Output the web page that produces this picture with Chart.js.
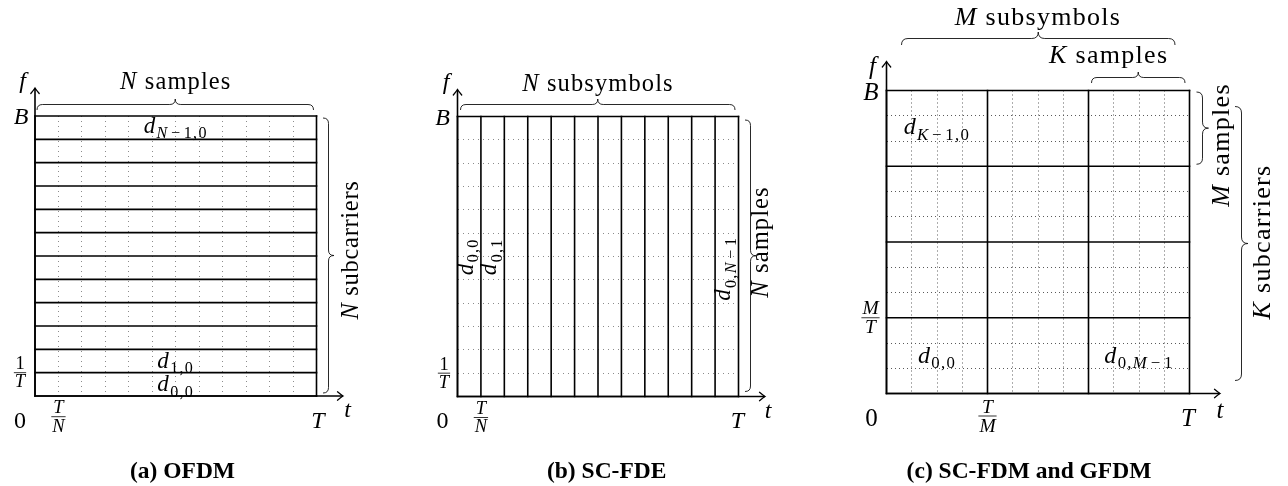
<!DOCTYPE html>
<html>
<head>
<meta charset="utf-8">
<script src="https://cdn.jsdelivr.net/npm/chart.js@4.4.1/dist/chart.umd.min.js"></script>
<style>
  html, body { margin: 0; padding: 0; background: #fff; }
  #wrap { position: relative; width: 1288px; height: 486px; overflow: hidden; }
  #wrap canvas { position: absolute; left: 0; top: 0; }
</style>
</head>
<body>
<div id="wrap">
  <canvas id="ofdm" width="1288" height="486"></canvas>
  <canvas id="scfde" width="1288" height="486"></canvas>
  <canvas id="gfdm" width="1288" height="486"></canvas>
</div>
<script>
// Every panel is a 12 x 12 grid of (time slot, frequency slot) cells.
const slotSpan = [0, 12];

// (a) OFDM: one subcarrier per row, N samples along time
const ofdmSubcarrierEdges = [0, 1, 2, 3, 4, 5, 6, 7, 8, 9, 10, 11, 12];
const ofdmBlockEdges = [0, 12];
const ofdmSampleDots = [1, 2, 3, 4, 5, 6, 7, 8, 9, 10, 11];
const ofdmFreqTicks = [{ v: 1, num: '1', den: '$T$' }, { v: 12, text: '$B$' }];
const ofdmTimeTicks = [{ v: 0, text: '0' }, { v: 1, num: '$T$', den: '$N$' }, { v: 12, text: '$T$' }];
const ofdmSymbols = [{ x: 6, y: 11.5, text: '$d_{N−1,0}$' }, { x: 6, y: 1.5, text: '$d_{1,0}$' }, { x: 6, y: 0.5, text: '$d_{0,0}$' }];

// (b) SC-FDE: one subsymbol per column, N samples along frequency
const scfdeSubsymbolEdges = [0, 1, 2, 3, 4, 5, 6, 7, 8, 9, 10, 11, 12];
const scfdeBandEdges = [0, 12];
const scfdeSampleDots = [1, 2, 3, 4, 5, 6, 7, 8, 9, 10, 11];
const scfdeFreqTicks = [{ v: 1, num: '1', den: '$T$' }, { v: 12, text: '$B$' }];
const scfdeTimeTicks = [{ v: 0, text: '0' }, { v: 1, num: '$T$', den: '$N$' }, { v: 12, text: '$T$' }];
const scfdeSymbols = [{ x: 0.5, y: 5.2, text: '$d_{0,0}$' }, { x: 1.5, y: 5.2, text: '$d_{0,1}$' }, { x: 11.5, y: 4.1, text: '$d_{0,N−1}$' }];

// (c) SC-FDM and GFDM: M = 3 subsymbols of K = 4 samples, K = 4 subcarriers of M = 3 samples
const gfdmSubsymbolEdges = [0, 4, 8, 12];
const gfdmSubcarrierEdges = [0, 3, 6, 9, 12];
const gfdmTimeDots = [1, 2, 3, 5, 6, 7, 9, 10, 11];
const gfdmFreqDots = [1, 2, 4, 5, 7, 8, 10, 11];
const gfdmFreqTicks = [{ v: 3, num: '$M$', den: '$T$' }, { v: 12, text: '$B$' }];
const gfdmTimeTicks = [{ v: 0, text: '0' }, { v: 4, num: '$T$', den: '$M$' }, { v: 12, text: '$T$' }];
const gfdmSymbols = [{ x: 2, y: 10.5, text: '$d_{K−1,0}$' }, { x: 2, y: 1.5, text: '$d_{0,0}$' }, { x: 10, y: 1.5, text: '$d_{0,M−1}$' }];

const SERIF = '"Liberation Serif", "Times New Roman", serif';
const INK = '#000';

function setFont(ctx, size, italic, bold) {
  ctx.font = (italic ? 'italic ' : '') + (bold ? 'bold ' : '') + size + 'px ' + SERIF;
}

// Split "$N$ samples" or "$d_{0,N−1}$" into styled glyph runs.
function parseTeX(src) {
  const runs = [];
  let math = false;
  let i = 0;
  while (i < src.length) {
    const c = src[i];
    if (c === '$') { math = !math; i++; continue; }
    if (math && c === '_' && src[i + 1] === '{') {
      const end = src.indexOf('}', i);
      for (const ch of src.slice(i + 2, end)) runs.push({ t: ch, it: /[A-Za-z]/.test(ch), sub: true });
      i = end + 1;
      continue;
    }
    runs.push({ t: c, it: math && /[A-Za-z]/.test(c), sub: false });
    i++;
  }
  return runs;
}

function measureTeX(ctx, src, size, track) {
  const runs = parseTeX(src);
  const widths = runs.map(r => {
    const s = r.sub ? size * 0.7 : size;
    setFont(ctx, s, r.it);
    let w = ctx.measureText(r.t).width + (track || 0);
    if (r.t === '−') w += s * 0.3;
    return w;
  });
  return { runs, widths, total: widths.reduce((a, b) => a + b, 0) };
}

function drawTeX(ctx, src, x, y, size, o) {
  o = o || {};
  const align = o.align || 'center';
  ctx.save();
  ctx.translate(x, y);
  if (o.rot) ctx.rotate(o.rot);
  ctx.fillStyle = INK;
  ctx.textBaseline = 'alphabetic';
  ctx.textAlign = 'left';
  const m = measureTeX(ctx, src, size, o.track);
  let cx = align === 'center' ? -m.total / 2 : align === 'right' ? -m.total : 0;
  m.runs.forEach((r, k) => {
    const s = r.sub ? size * 0.7 : size;
    setFont(ctx, s, r.it);
    const pad = r.t === '−' ? s * 0.15 : 0;
    ctx.fillText(r.t, cx + pad, r.sub ? size * 0.24 : 0);
    cx += m.widths[k];
  });
  ctx.restore();
  return m.total;
}

function drawFrac(ctx, num, den, x, barY, size) {
  const wn = measureTeX(ctx, num, size).total;
  const wd = measureTeX(ctx, den, size).total;
  const w = Math.max(wn, wd) + 2;
  drawTeX(ctx, num, x, barY - 3.5, size);
  drawTeX(ctx, den, x, barY + size * 0.8, size);
  ctx.save();
  ctx.strokeStyle = INK;
  ctx.lineWidth = 0.8;
  ctx.beginPath();
  ctx.moveTo(x - w / 2, barY);
  ctx.lineTo(x + w / 2, barY);
  ctx.stroke();
  ctx.restore();
}

// Curly brace from (x1,y1) to (x2,y2); the tip bulges to the left of that direction.
function drawBrace(ctx, x1, y1, x2, y2, amp) {
  const L = Math.hypot(x2 - x1, y2 - y1);
  const h = amp / 2;
  ctx.save();
  ctx.translate(x1, y1);
  ctx.rotate(Math.atan2(y2 - y1, x2 - x1));
  ctx.beginPath();
  ctx.moveTo(0, 0);
  ctx.quadraticCurveTo(0, -h, h, -h);
  ctx.lineTo(L / 2 - h, -h);
  ctx.quadraticCurveTo(L / 2, -h, L / 2, -amp);
  ctx.quadraticCurveTo(L / 2, -h, L / 2 + h, -h);
  ctx.lineTo(L - h, -h);
  ctx.quadraticCurveTo(L, -h, L, 0);
  ctx.strokeStyle = '#111';
  ctx.lineWidth = 0.9;
  ctx.stroke();
  ctx.restore();
}

function arrowHead(ctx, x, y, ang) {
  ctx.save();
  ctx.translate(x, y);
  ctx.rotate(ang);
  ctx.beginPath();
  ctx.moveTo(-5.5, -4.2);
  ctx.quadraticCurveTo(-1.6, -0.9, 0, 0);
  ctx.quadraticCurveTo(-1.6, 0.9, -5.5, 4.2);
  ctx.lineWidth = 1.3;
  ctx.stroke();
  ctx.restore();
}

// Time and frequency axes drawn from the origin of the scales.
function drawAxes(ctx, xs, ys, xTip, yTip) {
  const ox = xs.getPixelForValue(0);
  const oy = ys.getPixelForValue(0);
  ctx.save();
  ctx.strokeStyle = INK;
  ctx.lineWidth = 1.6;
  ctx.lineCap = 'square';
  ctx.beginPath();
  ctx.moveTo(ox, oy);
  ctx.lineTo(xTip - 1, oy);
  ctx.moveTo(ox, oy);
  ctx.lineTo(ox, yTip + 1);
  ctx.stroke();
  ctx.lineCap = 'round';
  arrowHead(ctx, xTip, oy, 0);
  arrowHead(ctx, ox, yTip, -Math.PI / 2);
  ctx.restore();
}

function drawTicks(ctx, xs, ys, freqTicks, timeTicks, lay) {
  freqTicks.forEach(t => {
    const py = ys.getPixelForValue(t.v);
    if (t.text) drawTeX(ctx, t.text, xs.left + lay.yLabelDx, py + lay.bDy, lay.tick);
    else drawFrac(ctx, t.num, t.den, xs.left + lay.fracDx, py, lay.frac);
  });
  timeTicks.forEach(t => {
    const px = xs.getPixelForValue(t.v);
    if (t.v === 0) drawTeX(ctx, t.text, xs.left + lay.zeroDx, ys.bottom + lay.rowDy, lay.tick);
    else if (t.text) drawTeX(ctx, t.text, px + lay.tDx, ys.bottom + lay.rowDy, lay.tick);
    else drawFrac(ctx, t.num, t.den, px, ys.bottom + lay.xFracDy, lay.frac);
  });
  drawTeX(ctx, '$f$', xs.left + lay.fDx, lay.fY, lay.tick);
  drawTeX(ctx, '$t$', xs.right + lay.tAxisDx, ys.bottom + lay.tAxisDy, lay.tick);
}

function drawCaption(ctx, text, x) {
  ctx.save();
  setFont(ctx, 23.5, false, true);
  ctx.fillStyle = INK;
  ctx.textAlign = 'center';
  ctx.textBaseline = 'alphabetic';
  ctx.fillText(text, x, 478);
  ctx.restore();
}

function slotAxis(dots, dash, color) {
  const list = dots.length ? dots : slotSpan;
  return {
    type: 'linear',
    min: slotSpan[0],
    max: slotSpan[1],
    afterBuildTicks: s => { s.ticks = list.map(v => ({ value: v })); },
    ticks: { display: false },
    grid: { display: dots.length > 0, drawTicks: false, color: color, lineWidth: 1 },
    border: { display: false, dash: dash }
  };
}

function edgeLines(vertical, edges) {
  return edges.map(e => ({
    data: vertical
      ? [{ x: e, y: slotSpan[0] }, { x: e, y: slotSpan[1] }]
      : [{ x: slotSpan[0], y: e }, { x: slotSpan[1], y: e }],
    showLine: true,
    borderColor: INK,
    borderWidth: 1.6,
    borderCapStyle: 'square',
    pointRadius: 0,
    fill: false,
    clip: false
  }));
}

function makePanel(id, area, xEdges, yEdges, xDots, yDots, dotStyle, art) {
  return new Chart(document.getElementById(id), {
    type: 'scatter',
    data: { datasets: [...edgeLines(true, xEdges), ...edgeLines(false, yEdges)] },
    options: {
      responsive: false,
      animation: false,
      events: [],
      layout: { padding: { left: area.left, top: area.top, right: 1288 - area.right, bottom: 486 - area.bottom } },
      scales: {
        x: slotAxis(xDots, dotStyle.dash, dotStyle.color),
        y: slotAxis(yDots, dotStyle.dash, dotStyle.color)
      },
      plugins: { legend: { display: false }, tooltip: { enabled: false } }
    },
    plugins: [{ id: 'panelArt', afterDraw: c => art(c.ctx, c.scales.x, c.scales.y) }]
  });
}

const RISE = -Math.PI / 2;

makePanel('ofdm', { left: 35, right: 316.5, top: 116, bottom: 396 },
  ofdmBlockEdges, ofdmSubcarrierEdges, ofdmSampleDots, [], { dash: [1, 4], color: '#8c8c8c' },
  (ctx, xs, ys) => {
    drawAxes(ctx, xs, ys, xs.right + 26.5, ys.top - 28);
    drawTicks(ctx, xs, ys, ofdmFreqTicks, ofdmTimeTicks, {
      tick: 24, frac: 18.5, yLabelDx: -14, bDy: 7.5, fracDx: -15, zeroDx: -15, rowDy: 31.5,
      tDx: 1.5, xFracDy: 20.7, fDx: -12.5, fY: 88, tAxisDx: 31, tAxisDy: 21
    });
    drawBrace(ctx, xs.left + 2, ys.top - 6, xs.right - 3, ys.top - 6, 11);
    drawTeX(ctx, '$N$ samples', xs.getPixelForValue(6), 89, 24.5, { track: 1.1 });
    drawBrace(ctx, xs.right + 6.5, ys.top + 2, xs.right + 6.5, ys.bottom - 3, 11);
    drawTeX(ctx, '$N$ subcarriers', xs.right + 41, 250, 24.5, { track: 0.7, rot: RISE });
    ofdmSymbols.forEach((s, i) => drawTeX(ctx, s.text, xs.getPixelForValue(s.x), ys.getPixelForValue(s.y) + [5, 6.5, 7][i], 23, { track: 1.3 }));
    drawCaption(ctx, '(a) OFDM', 182.5);
  });

makePanel('scfde', { left: 457.5, right: 738.5, top: 116.5, bottom: 396.5 },
  scfdeSubsymbolEdges, scfdeBandEdges, [], scfdeSampleDots, { dash: [1, 4], color: '#8c8c8c' },
  (ctx, xs, ys) => {
    drawAxes(ctx, xs, ys, xs.right + 26.5, ys.top - 27);
    drawTicks(ctx, xs, ys, scfdeFreqTicks, scfdeTimeTicks, {
      tick: 24, frac: 18.5, yLabelDx: -15, bDy: 8, fracDx: -13.5, zeroDx: -15, rowDy: 31.5,
      tDx: -1, xFracDy: 21, fDx: -11.5, fY: 89, tAxisDx: 29.5, tAxisDy: 21.5
    });
    drawBrace(ctx, xs.left + 3, ys.top - 6.5, xs.right - 3.5, ys.top - 6.5, 11);
    drawTeX(ctx, '$N$ subsymbols', xs.getPixelForValue(6), 91, 24.5, { track: 1.1 });
    drawBrace(ctx, xs.right + 6.5, ys.top + 3.5, xs.right + 6.5, ys.bottom - 5, 11);
    drawTeX(ctx, '$N$ samples', xs.right + 29, 242, 24.5, { track: 1.1, rot: RISE });
    scfdeSymbols.forEach(s => drawTeX(ctx, s.text, xs.getPixelForValue(s.x) + 3.5, ys.getPixelForValue(s.y), 23, { track: 1.3, rot: RISE, align: 'left' }));
    drawCaption(ctx, '(b) SC-FDE', 606.7);
  });

makePanel('gfdm', { left: 886.5, right: 1189.5, top: 90.5, bottom: 393.5 },
  gfdmSubsymbolEdges, gfdmSubcarrierEdges, gfdmTimeDots, gfdmFreqDots, { dash: [1, 3], color: '#5a5a5a' },
  (ctx, xs, ys) => {
    drawAxes(ctx, xs, ys, xs.right + 30.5, ys.top - 29);
    drawTicks(ctx, xs, ys, gfdmFreqTicks, gfdmTimeTicks, {
      tick: 25, frac: 19.5, yLabelDx: -15.5, bDy: 9, fracDx: -16, zeroDx: -15, rowDy: 32.5,
      tDx: -1.5, xFracDy: 22.5, fDx: -14, fY: 74, tAxisDx: 30.5, tAxisDy: 24.5
    });
    drawBrace(ctx, xs.left + 15, 45, xs.right - 14.5, 45, 13);
    drawTeX(ctx, '$M$ subsymbols', xs.getPixelForValue(6), 25, 26, { track: 1.3 });
    drawBrace(ctx, xs.getPixelForValue(8) + 3, 83, xs.right - 4.5, 83, 11);
    drawTeX(ctx, '$K$ samples', 1108.7, 63, 26, { track: 1.3 });
    drawBrace(ctx, xs.right + 7, ys.top + 1.5, xs.right + 7, ys.getPixelForValue(9) - 2, 12);
    drawTeX(ctx, '$M$ samples', xs.right + 39, 145, 26, { track: 1.3, rot: RISE });
    drawBrace(ctx, xs.right + 45.5, ys.top + 16, xs.right + 45.5, ys.bottom - 13, 13);
    drawTeX(ctx, '$K$ subcarriers', xs.right + 80, 242, 26, { track: 1.3, rot: RISE });
    gfdmSymbols.forEach((s, i) => drawTeX(ctx, s.text, xs.getPixelForValue(s.x), ys.getPixelForValue(s.y) + (i === 0 ? 5.5 : 7), 24, { track: 1.3 }));
    drawCaption(ctx, '(c) SC-FDM and GFDM', 1029);
  });
</script>
</body>
</html>
